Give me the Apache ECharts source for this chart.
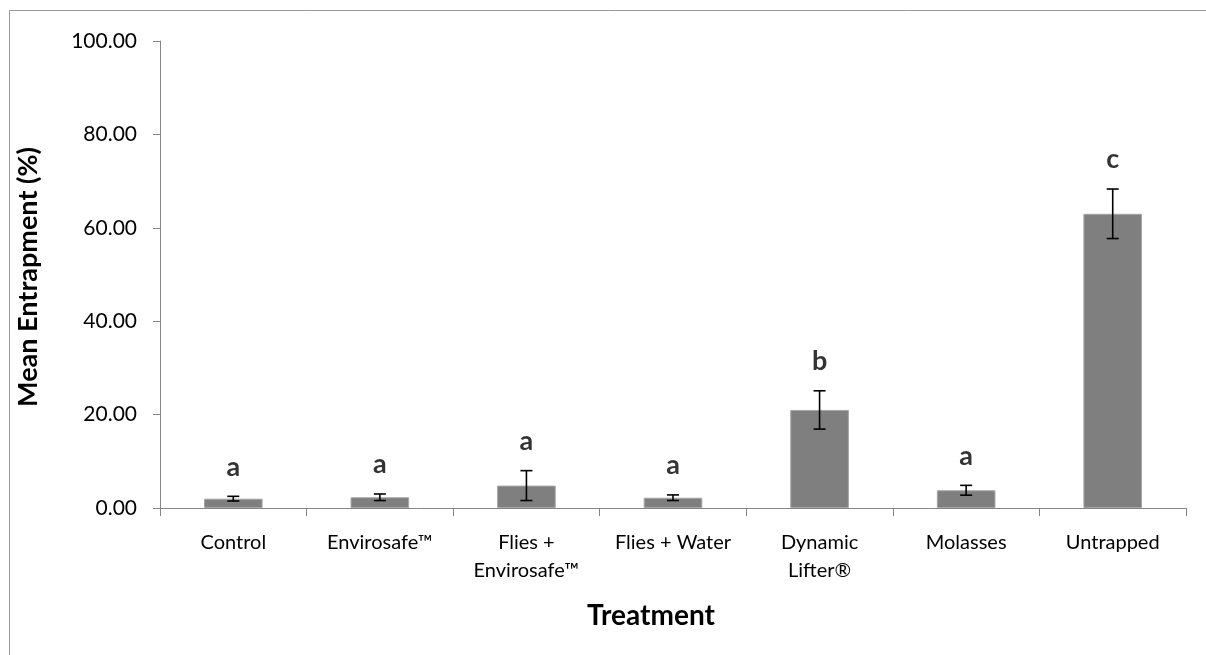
<!DOCTYPE html>
<html>
<head>
<meta charset="utf-8">
<script src="https://cdn.jsdelivr.net/npm/echarts@6/dist/echarts.min.js"></script>
<style>
html,body{margin:0;padding:0;background:#fff;}
#c{width:1206px;height:655px;}
</style>
</head>
<body>
<div id="c"></div>
<script>
const categories = ['Control', 'Envirosafe™', 'Flies +\nEnvirosafe™', 'Flies + Water', 'Dynamic\nLifter®', 'Molasses', 'Untrapped'];
const means = [2.0, 2.3, 4.8, 2.2, 21.0, 3.8, 63.0];
const errors = [0.5, 0.7, 3.2, 0.6, 4.1, 1.05, 5.3];
const letters = ['a', 'a', 'a', 'a', 'b', 'a', 'c'];
const yTicks = [0, 20, 40, 60, 80, 100];

const FONT = 'Lato';
const chart = echarts.init(document.getElementById('c'), null, {renderer: 'canvas'});

const errData = means.map((m, i) => [i, m - errors[i], m + errors[i]]);
const letterData = means.map((m, i) => ({value: [i, m + errors[i]], label: {formatter: letters[i]}}));

chart.setOption({
  animation: false,
  backgroundColor: '#fff',
  grid: {left: 160, right: 20, top: 41, bottom: 147, containLabel: false},
  xAxis: {
    type: 'category',
    data: categories,
    axisLine: {lineStyle: {color: '#868686', width: 1}},
    axisTick: {show: true, length: 8, lineStyle: {color: '#868686'}},
    axisLabel: {color: '#000', fontFamily: FONT, fontSize: 20, lineHeight: 28, margin: 21, interval: 0}
  },
  yAxis: {
    type: 'value',
    min: yTicks[0], max: yTicks[yTicks.length - 1], interval: 20,
    axisLine: {show: true, lineStyle: {color: '#868686', width: 1}},
    axisTick: {show: true, length: 7, lineStyle: {color: '#868686'}},
    splitLine: {show: false},
    axisLabel: {color: '#000', fontFamily: FONT, fontSize: 21, margin: 23,
      formatter: v => v.toFixed(2)}
  },
  graphic: [
    {type: 'rect', shape: {x: 9.5, y: 10.5, width: 1300, height: 800}, style: {fill: 'none', stroke: '#9a9a9a', lineWidth: 1}, silent: true, z: -10},
    {type: 'text', rotation: Math.PI / 2, x: 28, y: 277,
      style: {text: 'Mean Entrapment (%)', font: 'bold 27px ' + FONT, fill: '#000', align: 'center', verticalAlign: 'middle'}},
    {type: 'text', x: 651, y: 616,
      style: {text: 'Treatment', font: 'bold 28px ' + FONT, fill: '#000', align: 'center', verticalAlign: 'middle'}}
  ],
  series: [
    {
      type: 'bar',
      data: means,
      barCategoryGap: '60%',
      itemStyle: {color: '#7f7f7f', borderColor: '#a6a6a6', borderWidth: 1},
      z: 2
    },
    {
      type: 'custom',
      data: errData,
      z: 5,
      renderItem: function (params, api) {
        const x = api.value(0);
        const lo = api.coord([x, api.value(1)]);
        const hi = api.coord([x, api.value(2)]);
        const w = 6;
        const st = {stroke: '#000', lineWidth: 1.6};
        return {type: 'group', children: [
          {type: 'line', shape: {x1: lo[0], y1: lo[1], x2: hi[0], y2: hi[1]}, style: st},
          {type: 'line', shape: {x1: lo[0] - w, y1: lo[1], x2: lo[0] + w, y2: lo[1]}, style: st},
          {type: 'line', shape: {x1: hi[0] - w, y1: hi[1], x2: hi[0] + w, y2: hi[1]}, style: st}
        ]};
      }
    },
    {
      type: 'scatter',
      data: letterData,
      symbolSize: 0,
      z: 6,
      label: {show: true, position: 'top', distance: 16, color: '#000', fontFamily: FONT, fontWeight: 'bold', fontSize: 27}
    }
  ]
});
</script>
</body>
</html>
